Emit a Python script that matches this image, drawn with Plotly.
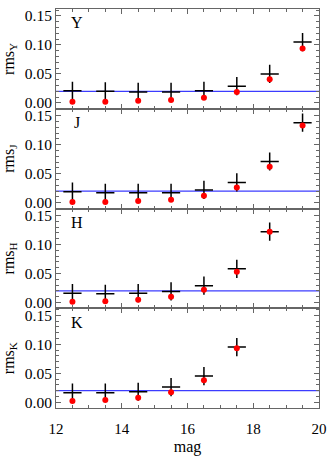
import plotly.graph_objects as go
from plotly.subplots import make_subplots

mag = [12.5, 13.5, 14.5, 15.5, 16.5, 17.5, 18.5, 19.5]
bands = ["Y", "J", "H", "K"]

cross_Y = [0.021, 0.020, 0.019, 0.019, 0.021, 0.029, 0.050, 0.105]
dot_Y = [0.002, 0.002, 0.004, 0.005, 0.009, 0.019, 0.041, 0.094]
cross_J = [0.019, 0.017, 0.017, 0.017, 0.022, 0.035, 0.071, 0.138]
dot_J = [0.001, 0.001, 0.003, 0.005, 0.012, 0.026, 0.062, 0.133]
cross_H = [0.016, 0.015, 0.016, 0.019, 0.029, 0.058, 0.122, None]
dot_H = [0.001, 0.002, 0.0045, 0.010, 0.022, 0.053, 0.122, None]
cross_K = [0.0165, 0.0165, 0.018, 0.026, 0.045, 0.095, None, None]
dot_K = [0.002, 0.004, 0.0075, 0.017, 0.038, 0.093, None, None]
ref_level = 0.02

crosses = [cross_Y, cross_J, cross_H, cross_K]
dots = [dot_Y, dot_J, dot_H, dot_K]

yticks = [0.0, 0.05, 0.10, 0.15]
ytick_text = ["0.00", "0.05", "0.10", "0.15"]
xticks = [12, 14, 16, 18, 20]

FONT = "Liberation Serif"
AX = "#666666"

fig = make_subplots(rows=4, cols=1, shared_xaxes=True, vertical_spacing=0)

for i, b in enumerate(bands):
    r = i + 1
    fig.add_trace(go.Scatter(x=[12, 20], y=[ref_level, ref_level], mode="lines",
                             line=dict(color="rgb(60,60,255)", width=1.2),
                             showlegend=False, hoverinfo="skip"), row=r, col=1)
    fig.add_trace(go.Scatter(x=mag, y=crosses[i], mode="markers",
                             marker=dict(symbol="cross-thin", size=13,
                                         line=dict(color="black", width=1.5)),
                             showlegend=False), row=r, col=1)
    fig.add_trace(go.Scatter(x=mag, y=dots[i], mode="markers",
                             marker=dict(symbol="circle", size=6, color="red",
                                         line=dict(width=0)),
                             showlegend=False), row=r, col=1)
    fig.update_yaxes(range=[-0.01, 0.162], tickvals=yticks, ticktext=ytick_text,
                     ticks="inside", ticklen=5, tickcolor=AX, mirror="ticks",
                     showline=True, linecolor=AX, linewidth=1,
                     showgrid=False, zeroline=False,
                     minor=dict(dtick=0.01, tick0=0, ticks="inside", ticklen=3, tickcolor=AX),
                     tickfont=dict(family=FONT, size=15.5, color="black"),
                     title=dict(text=f"rms<sub>{b}</sub>", standoff=7,
                                font=dict(family=FONT, size=16, color="black")),
                     row=r, col=1)
    fig.update_xaxes(range=[12, 20], tickvals=xticks,
                     ticks="inside", ticklen=5, tickcolor=AX, mirror="ticks",
                     showline=True, linecolor=AX, linewidth=1,
                     showgrid=False, zeroline=False,
                     minor=dict(dtick=0.5, tick0=12, ticks="inside", ticklen=3, tickcolor=AX),
                     tickfont=dict(family=FONT, size=15, color="black"),
                     ticklabelstandoff=7,
                     showticklabels=(r == 4),
                     row=r, col=1)
    yref = "y" if r == 1 else f"y{r}"
    fig.add_annotation(text=b, xref=f"{'x' if r == 1 else 'x' + str(r)} domain",
                       yref=f"{yref} domain", x=0.08, y=0.86, showarrow=False,
                       xanchor="center", yanchor="middle",
                       font=dict(family=FONT, size=16, color="black"))

fig.update_xaxes(title=dict(text="mag", standoff=4,
                            font=dict(family=FONT, size=16, color="black")), row=4, col=1)

fig.update_layout(width=334, height=459, margin=dict(l=56, r=14, t=7, b=50),
                  plot_bgcolor="white", paper_bgcolor="white",
                  font=dict(family=FONT, color="black"))

fig.write_html("out.html", post_script="document.body.style.margin='0px';",
               config={"displayModeBar": False})
